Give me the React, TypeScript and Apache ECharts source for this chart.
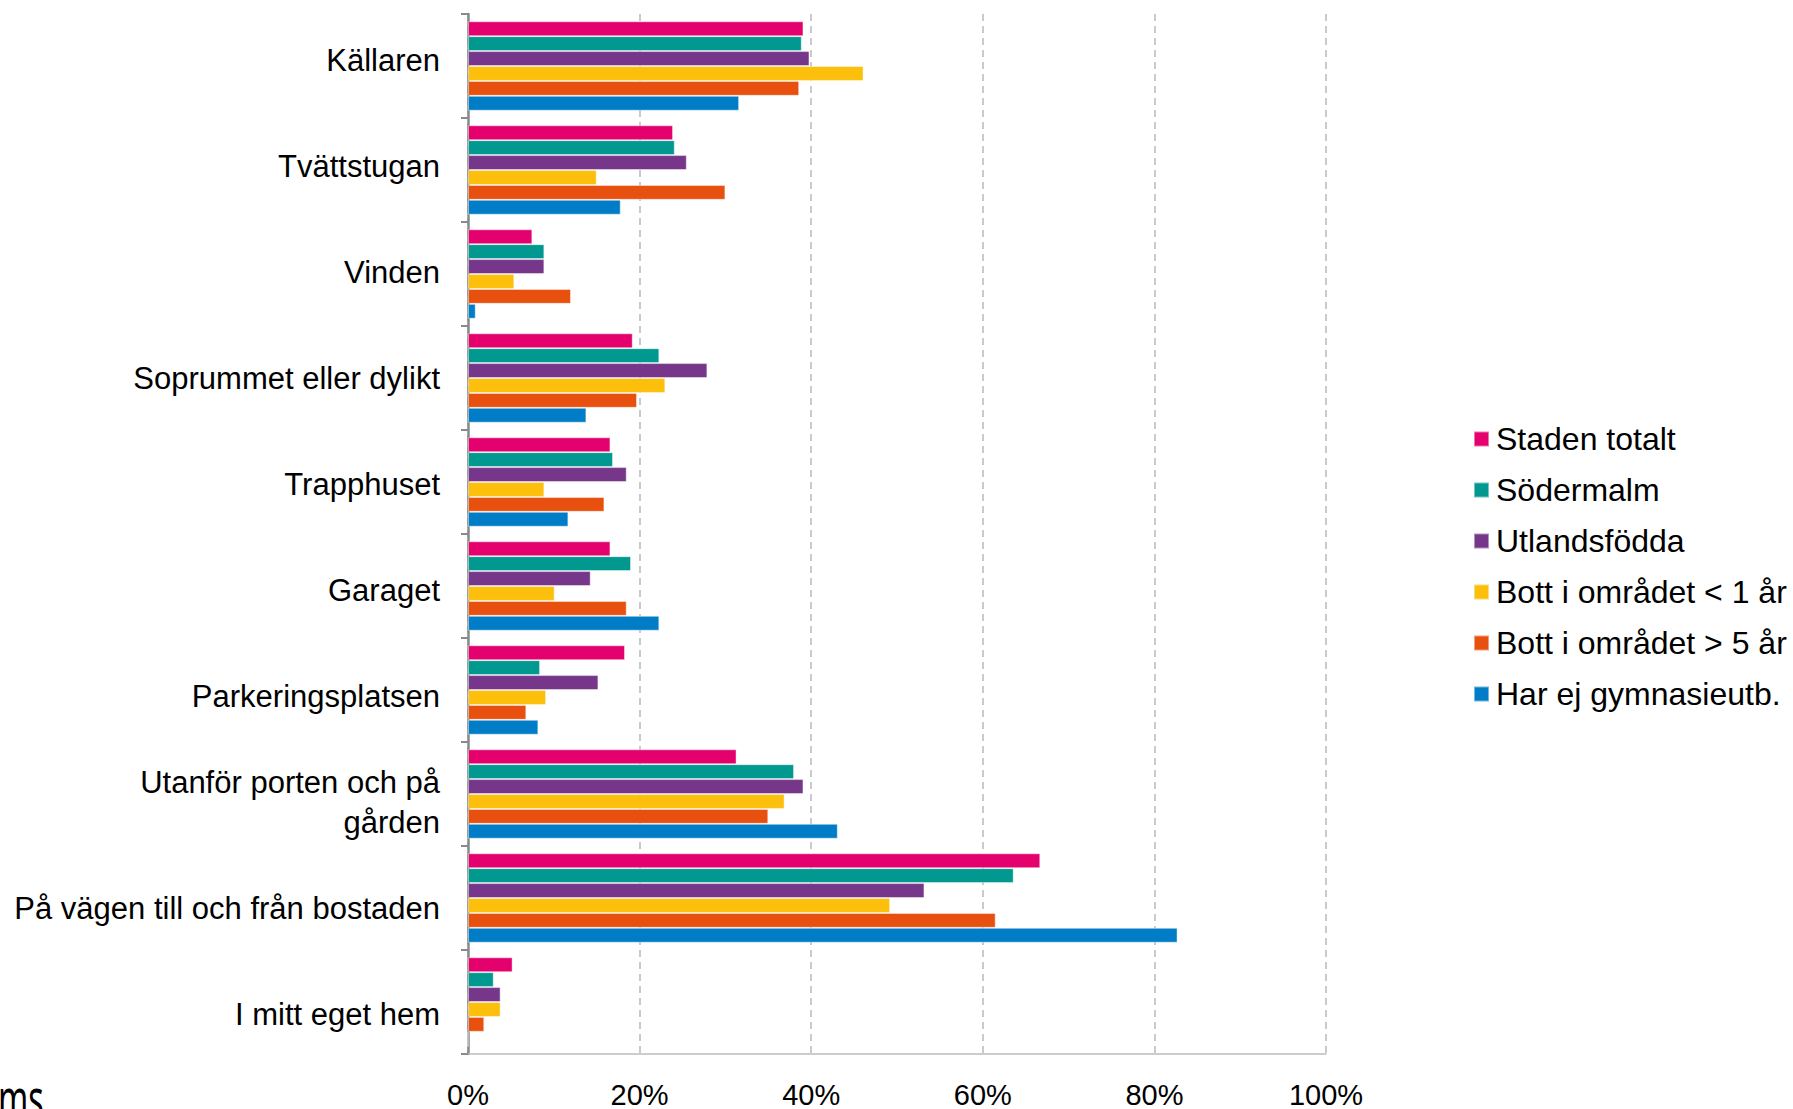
import React, { useEffect, useRef } from "react";
import * as echarts from "echarts";

const categories = [
  "Källaren",
  "Tvättstugan",
  "Vinden",
  "Soprummet eller dylikt",
  "Trapphuset",
  "Garaget",
  "Parkeringsplatsen",
  "Utanför porten och på\ngården",
  "På vägen till och från bostaden",
  "I mitt eget hem",
];

const seriesNames = [
  "Staden totalt",
  "Södermalm",
  "Utlandsfödda",
  "Bott i området < 1 år",
  "Bott i området > 5 år",
  "Har ej gymnasieutb.",
];

const stadenTotalt = [39.1, 23.9, 7.5, 19.2, 16.6, 16.6, 18.3, 31.3, 66.7, 5.2];
const sodermalm = [38.9, 24.1, 8.9, 22.3, 16.9, 19.0, 8.4, 38.0, 63.6, 3.0];
const utlandsfodda = [39.8, 25.5, 8.9, 27.9, 18.5, 14.3, 15.2, 39.1, 53.2, 3.8];
const bottUnder1 = [46.1, 15.0, 5.4, 23.0, 8.9, 10.1, 9.1, 36.9, 49.2, 3.8];
const bottOver5 = [38.6, 30.0, 12.0, 19.7, 15.9, 18.5, 6.8, 35.0, 61.5, 1.9];
const ejGymnasie = [31.6, 17.8, 0.9, 13.8, 11.7, 22.3, 8.2, 43.1, 82.7, 0];

const xTicks = [0, 20, 40, 60, 80, 100];

const colors = ["#E4006D", "#00988F", "#76368A", "#FCBF0C", "#E8500F", "#007DC6"];

export default function App() {
  const ref = useRef<HTMLDivElement>(null);

  useEffect(() => {
    if (!ref.current) return;
    const chart = echarts.init(ref.current, undefined, { renderer: "svg" });
    const values = [stadenTotalt, sodermalm, utlandsfodda, bottUnder1, bottOver5, ejGymnasie];
    const font = "'Liberation Sans', Arial, sans-serif";
    chart.setOption({
      animation: false,
      backgroundColor: "#ffffff",
      color: colors,
      textStyle: { fontFamily: font },
      grid: [
        { left: 468, top: 14, width: 858, height: 1045, containLabel: false },
        { left: 468, top: 7.5, width: 858, height: 1060, containLabel: false },
      ],
      legend: {
        orient: "vertical",
        left: 1468,
        top: 418,
        icon: "rect",
        itemWidth: 15,
        itemHeight: 15,
        itemGap: 19,
        data: seriesNames,
        textStyle: { fontSize: 32, color: "#000", fontFamily: font, lineHeight: 32, padding: [0, 0, 0, 2] },
      },
      xAxis: [
        {
          type: "value",
          gridIndex: 0,
          min: xTicks[0],
          max: xTicks[xTicks.length - 1],
          interval: 20,
          axisLine: { show: true, lineStyle: { color: "#bdbdbd", width: 1.5 } },
          axisTick: { show: false },
          splitLine: { show: true, lineStyle: { color: "#cacaca", width: 2, type: [7, 5] } },
          axisLabel: {
            formatter: "{value}%",
            fontSize: 29,
            color: "#000",
            margin: 26,
            fontFamily: font,
          },
        },
        {
          type: "value",
          gridIndex: 1,
          min: 0,
          max: 100,
          show: false,
        },
      ],
      yAxis: [
        {
          type: "category",
          gridIndex: 0,
          inverse: true,
          data: categories,
          axisLine: { show: true, lineStyle: { color: "#8a8a8a", width: 2.5 } },
          axisTick: { show: true, length: 7, lineStyle: { color: "#8a8a8a", width: 2 } },
          axisLabel: { show: false },
        },
        {
          type: "category",
          gridIndex: 1,
          inverse: true,
          data: categories,
          axisLine: { show: false },
          axisTick: { show: false },
          splitLine: { show: false },
          axisLabel: { fontSize: 31, color: "#000", margin: 28, lineHeight: 40, align: "right", fontFamily: font },
        },
      ],
      graphic: [
        {
          type: "text",
          left: -2,
          top: 1070,
          scaleX: 0.6,
          style: { text: "ms", fontSize: 54, fontFamily: "'Noto Sans', sans-serif", fill: "#000" },
        },
      ],
      series: seriesNames.map((name, i) => ({
        name,
        type: "bar",
        xAxisIndex: 0,
        yAxisIndex: 0,
        data: values[i],
        barGap: "0%",
        barCategoryGap: "14%",
        itemStyle: { color: colors[i], borderColor: "rgba(255,255,255,0.45)", borderWidth: 1 },
      })),
    });
    return () => chart.dispose();
  }, []);

  return (
    <div
      ref={ref}
      style={{ position: "fixed", left: 0, top: 0, width: 1793, height: 1109, background: "#fff" }}
    />
  );
}
